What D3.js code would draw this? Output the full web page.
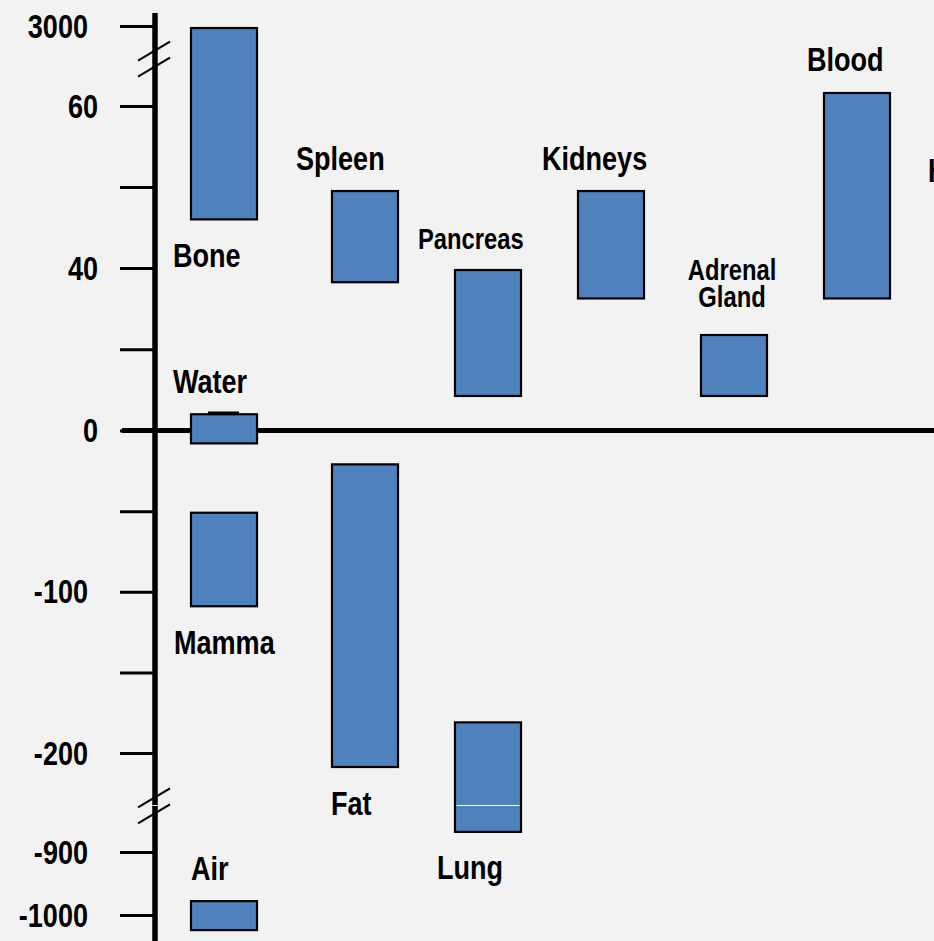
<!DOCTYPE html>
<html>
<head>
<meta charset="utf-8">
<script src="https://cdn.jsdelivr.net/npm/d3@7"></script>
<style>
	html, body {margin: 0; padding: 0; background: #f2f2f2; overflow: hidden;}
	svg {display: block;}
	text {font-family: "Liberation Sans", Arial, sans-serif; font-weight: bold; fill: #000;}
</style>
</head>
<body>
<div class="chart"></div>
<script>
// tissues (HU ranges)
var tissues  = ["Bone", "Water", "Mamma", "Air", "Spleen", "Fat", "Pancreas", "Lung", "Kidneys", "Adrenal Gland", "Blood", "Heart"];
var columns  = [0, 0, 0, 0, 1, 1, 2, 2, 3, 4, 5, 6];
var hiValues = [2925, 4, -51, -978, 49.5, -21, 39.5, -181, 49.5, 23.5, 538, 48];
var loValues = [46, -8, -109, -1024, 36.5, -299, 8.5, -758, 32.5, 8.5, 32.5, 30];
var labelSide = ["below", "above", "below", "above", "above", "below", "above", "below", "above", "above", "above", "above"];
var smallLabels = ["Pancreas", "Adrenal Gland"];

// y axis, broken twice
var axisDomain = [-1000, -900, -200, 0, 40, 60, 3000];
var tickValues = [3000, 60, 50, 40, 20, 0, -50, -100, -150, -200, -900, -1000];
var tickLabels = ["3000", "60", "", "40", "", "0", "", "-100", "", "-200", "-900", "-1000"];
var breakValues = [1800, -570];

// label nudges (px, from the bar's left edge)
var labelDx = [-17, -17, -16, 1, -35, 0, -36, -17, -35, 0, -16, -18];

var width = 934, height = 941,
	axisX = 155,
	barW = 66,
	squeeze = 0.82; // no narrow font installed, so squash Liberation Sans

var svg = d3.select(".chart").append("svg")
	.attr("width", width)
	.attr("height", height);

//put a text at x,y and squeeze it sideways
var narrow = function(sel, x, y){
	return sel.attr("x", null).attr("y", null).attr("dy", null)
		.attr("transform", "translate(" + x + "," + y + ") scale(" + squeeze + ",1)");
};

//scales
var y = d3.scaleLinear()
	.domain(axisDomain)
	.range([915, 852, 753, 430.5, 268, 106, 26]);

var col = d3.scaleLinear()
	.domain([0, 1, 6])
	.range([190, 331, 946]);

var data = tissues.map(function(t, i){
	return {name: t, col: columns[i], hi: hiValues[i], lo: loValues[i], side: labelSide[i], dx: labelDx[i]};
});

//y axis ticks
var yAxis = d3.axisLeft(y)
	.tickValues(tickValues)
	.tickSize(35)
	.tickFormat(function(d, i){ return tickLabels[i]; });

var gAxis = svg.append("g")
	.attr("class", "yAxis")
	.attr("transform", "translate(" + axisX + ",0)")
	.call(yAxis);

gAxis.select(".domain").remove();
gAxis.selectAll(".tick line")
	.attr("stroke", "#000")
	.attr("stroke-width", 3);
gAxis.selectAll(".tick text")
	.attr("font-size", 33)
	.attr("text-anchor", "end")
	.each(function(d, i){
		narrow(d3.select(this), tickLabels[i].length > 2 ? -67 : -57, 11);
	});

//zero line
svg.append("line")
	.attr("x1", 122).attr("x2", width)
	.attr("y1", y(0)).attr("y2", y(0))
	.attr("stroke", "#000")
	.attr("stroke-width", 5);

//main axis line
svg.append("line")
	.attr("x1", axisX).attr("x2", axisX)
	.attr("y1", 13).attr("y2", height)
	.attr("stroke", "#000")
	.attr("stroke-width", 5.5);

//bars
svg.selectAll(".bar")
	.data(data)
	.enter().append("rect")
	.attr("class", "bar")
	.attr("x", function(d){ return col(d.col) + 1; })
	.attr("y", function(d){ return y(d.hi); })
	.attr("width", barW)
	.attr("height", function(d){ return y(d.lo) - y(d.hi); })
	.attr("fill", "#4f81bd")
	.attr("stroke", "#000")
	.attr("stroke-width", 2.2);

//little cap on top of water
var water = data[1];
svg.append("line")
	.attr("x1", col(water.col) + 18).attr("x2", col(water.col) + 49)
	.attr("y1", y(water.hi) - 1.5).attr("y2", y(water.hi) - 1.5)
	.attr("stroke", "#000")
	.attr("stroke-width", 2.5);

//break marks
breakValues.forEach(function(b){
	[-8, 8].forEach(function(off){
		svg.append("line")
			.attr("x1", axisX - 17).attr("y1", y(b) + off + 10)
			.attr("x2", axisX + 15).attr("y2", y(b) + off - 9)
			.attr("stroke", "#000")
			.attr("stroke-width", 2.2);
	});
});

//white gap on the lower break (axis + bars crossing it)
var gapY = Math.round(y(breakValues[1])) + 0.5;
svg.append("line")
	.attr("x1", axisX - 2.5).attr("x2", axisX + 2.5)
	.attr("y1", gapY).attr("y2", gapY)
	.attr("stroke", "#fff")
	.attr("stroke-width", 1);
data.filter(function(d){ return d.hi > breakValues[1] && d.lo < breakValues[1]; })
	.forEach(function(d){
		svg.append("line")
			.attr("x1", col(d.col) + 2.5).attr("x2", col(d.col) + barW - 0.5)
			.attr("y1", gapY).attr("y2", gapY)
			.attr("stroke", "#fff")
			.attr("stroke-width", 1);
	});

//labels
data.forEach(function(d){
	var small = smallLabels.indexOf(d.name) != -1,
		left = col(d.col);

	if (d.name == "Adrenal Gland"){
		var mid = left + barW / 2 - 1;
		narrow(svg.append("text").attr("font-size", 29).attr("text-anchor", "middle").text("Adrenal"), mid, y(d.hi) - 55);
		narrow(svg.append("text").attr("font-size", 29).attr("text-anchor", "middle").text("Gland"), mid, y(d.hi) - 28);
		return;
	}

	narrow(svg.append("text")
		.attr("font-size", small ? 29 : 33)
		.text(d.name),
		left + d.dx,
		d.side == "above" ? y(d.hi) - 21.5 : y(d.lo) + 47.5);
});
</script>
</body>
</html>
